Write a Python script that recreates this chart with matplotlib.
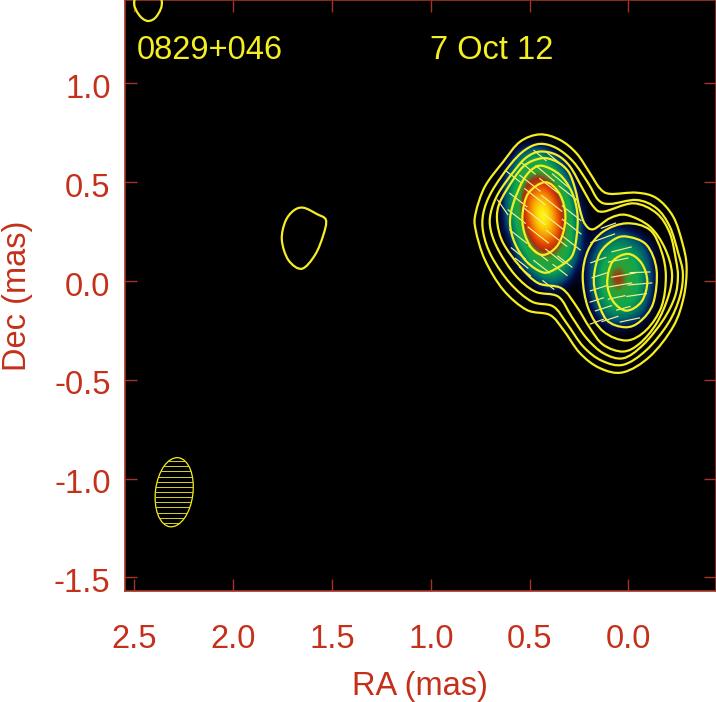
import numpy as np
import matplotlib
matplotlib.use('Agg')
import matplotlib.pyplot as plt
from matplotlib.colors import LinearSegmentedColormap
from matplotlib.patches import Ellipse, PathPatch
from matplotlib.path import Path
from matplotlib.transforms import ScaledTranslation

plt.rcParams['font.family'] = ['Liberation Sans', 'DejaVu Sans']

RED = '#c4301a'
AXIS_RED = '#a83224'
YELLOW = '#f4ee22'

source_name = '0829+046'
epoch = '7 Oct 12'
x_ticks = [2.5, 2.0, 1.5, 1.0, 0.5, 0.0]
y_ticks = [1.0, 0.5, 0.0, -0.5, -1.0, -1.5]

map_ra = [0.70, 0.65, 0.60, 0.55, 0.50, 0.45, 0.40, 0.35, 0.30, 0.25,
          0.20, 0.15, 0.10, 0.05, 0.00, -0.05, -0.10, -0.15, -0.20]
map_dec = [0.70, 0.65, 0.60, 0.55, 0.50, 0.45, 0.40, 0.35, 0.30, 0.25, 0.20,
           0.15, 0.10, 0.05, 0.00, -0.05, -0.10, -0.15, -0.20, -0.25, -0.30]
map_values = [
    [0, 0, 0, 0, 0, 0, 0, 0, 0, 0, 0, 0, 0, 0, 0, 0, 0, 0, 0],
    [0, 0, 0, 10, 22, 24, 12, 0, 0, 0, 0, 0, 0, 0, 0, 0, 0, 0, 0],
    [0, 0, 5, 27, 38, 39, 33, 15, 0, 0, 0, 0, 0, 0, 0, 0, 0, 0, 0],
    [0, 0, 13, 36, 45, 48, 43, 30, 5, 0, 0, 0, 0, 0, 0, 0, 0, 0, 0],
    [0, 0, 21, 42, 54, 60, 53, 41, 18, 0, 0, 0, 0, 0, 0, 0, 0, 0, 0],
    [0, 0, 25, 45, 64, 76, 67, 48, 29, 2, 0, 0, 0, 0, 0, 0, 0, 0, 0],
    [0, 0, 27, 47, 71, 89, 81, 55, 37, 5, 0, 0, 0, 0, 0, 0, 0, 0, 0],
    [0, 0, 25, 47, 73, 96, 90, 62, 41, 12, 0, 0, 0, 0, 0, 0, 0, 0, 0],
    [0, 0, 20, 44, 68, 94, 92, 65, 43, 15, 0, 0, 0, 0, 0, 0, 0, 0, 0],
    [0, 0, 13, 41, 60, 84, 86, 64, 43, 17, 0, 5, 12, 12, 8, 3, 0, 0, 0],
    [0, 0, 3, 35, 50, 68, 72, 57, 41, 15, 0, 12, 22, 25, 22, 14, 4, 0, 0],
    [0, 0, 0, 24, 42, 53, 57, 49, 37, 11, 3, 20, 30, 35, 32, 25, 10, 0, 0],
    [0, 0, 0, 9, 33, 43, 46, 42, 30, 5, 8, 27, 38, 44, 40, 31, 15, 0, 0],
    [0, 0, 0, 0, 18, 33, 38, 34, 19, 0, 10, 30, 46, 56, 44, 35, 18, 1, 0],
    [0, 0, 0, 0, 0, 15, 23, 19, 6, 0, 10, 30, 47, 62, 44, 36, 18, 1, 0],
    [0, 0, 0, 0, 0, 0, 6, 5, 0, 0, 8, 28, 42, 50, 43, 35, 17, 0, 0],
    [0, 0, 0, 0, 0, 0, 0, 0, 0, 0, 4, 24, 36, 40, 38, 30, 12, 0, 0],
    [0, 0, 0, 0, 0, 0, 0, 0, 0, 0, 1, 15, 28, 32, 30, 22, 7, 0, 0],
    [0, 0, 0, 0, 0, 0, 0, 0, 0, 0, 0, 6, 14, 17, 15, 9, 1, 0, 0],
    [0, 0, 0, 0, 0, 0, 0, 0, 0, 0, 0, 0, 2, 3, 2, 0, 0, 0, 0],
    [0, 0, 0, 0, 0, 0, 0, 0, 0, 0, 0, 0, 0, 0, 0, 0, 0, 0, 0],
]

c1_ra = [.447, .346, .262, .194, .144, .093, -.042, -.143, -.227, -.274, -.295, -.281, -.227, -.109,
         .026, .144, .245, .329, .397, .515, .633, .726, .773, .773, .726, .633, .548]
c1_dec = [.742, .714, .646, .545, .469, .441, .447, .419, .326, .191, .073, -.079, -.231, -.382,
          -.462, -.441, -.365, -.247, -.172, -.146, -.045, .107, .259, .343, .478, .604, .705]
c2_ra = [.447, .363, .279, .203, .152, .093, -.042, -.143, -.210, -.253, -.276, -.261, -.202, -.092,
         .026, .135, .228, .312, .380, .489, .599, .692, .734, .734, .692, .599, .523]
c2_dec = [.694, .672, .604, .495, .410, .390, .410, .368, .275, .140, .039, -.079, -.214, -.349,
          -.424, -.403, -.332, -.214, -.129, -.104, -.011, .124, .242, .343, .452, .587, .663]
c3_ra = [.447, .363, .295, .228, .177, .127, -.025, -.143, -.210, -.241, -.251, -.236, -.177, -.075,
         .026, .127, .211, .287, .355, .473, .574, .658, .697, .697, .658, .574, .515]
c3_dec = [.655, .638, .579, .461, .377, .351, .393, .343, .242, .107, .022, -.079, -.197, -.323,
          -.391, -.365, -.290, -.180, -.079, -.053, .031, .157, .259, .343, .444, .562, .626]
c4_ra = [.439, .363, .304, .270, .245, .220, .177, .093, .009, -.109, -.185, -.221, -.202, -.143,
         -.059, .026, .127, .194, .262, .338, .456, .548, .633, .663, .658, .616, .532]
c4_dec = [.621, .604, .554, .469, .360, .289, .262, .318, .334, .275, .166, .039, -.079, -.214,
          -.315, -.357, -.323, -.239, -.129, -.037, -.011, .073, .191, .292, .377, .461, .579]
left2_ra = [.430, .346, .287, .258, .262, .287, .363, .430, .515, .574, .599, .582, .532, .481]
left2_dec = [.582, .537, .452, .343, .225, .124, .065, .043, .098, .191, .292, .393, .511, .570]
left1_ra = [.422, .355, .321, .326, .363, .430, .489, .528, .535, .506]
left1_dec = [.500, .452, .360, .259, .174, .132, .166, .250, .343, .444]
right3_ra = [.009, -.109, -.168, -.190, -.168, -.092, .009, .127, .203, .231, .203, .127]
right3_dec = [.292, .259, .149, .022, -.129, -.247, -.301, -.255, -.138, .022, .157, .250]
right2_ra = [.009, -.092, -.143, -.126, -.059, .017, .110, .161, .174, .144, .076]
right2_dec = [.225, .183, .056, -.112, -.205, -.234, -.197, -.079, .022, .140, .208]
right1_ra = [.000, -.067, -.096, -.067, .009, .076, .107, .080]
right1_dec = [.137, .090, -.003, -.104, -.150, -.104, -.011, .098]
blob_ra = [1.645, 1.577, 1.531, 1.544, 1.586, 1.653, 1.721, 1.754, 1.737, 1.695]
blob_dec = [.371, .339, .309, .233, .132, .062, .106, .207, .300, .356]
corner_ra = [2.500, 2.480, 2.434, 2.387, 2.363, 2.434]
corner_dec = [1.422, 1.351, 1.316, 1.341, 1.422, 1.550]

# polarisation sticks: centre, length (mas), position angle (deg)
stick_ra = [.447, .368, .506, .422, .338, .582, .498, .397, .304, .636, .557, .473, .388, .287, .565, .473,
            .380, .287, .557, .456, .363, .287, .557, .456, .371, .321, .540, .439, .346, .523, .405,
            .101, .130, .034, .152, .051, -.059, .025, .143, -.059, .042, .152, -.042, .059, .160,
            .025, .126, -.008, .093, .160]
stick_dec = [.635, .613, .570, .545, .503, .528, .495, .478, .444, .373, .410, .427, .393, .343, .326, .326,
             .301, .275, .225, .233, .216, .191, .140, .140, .124, .098, .090, .073, .056, .048, -.020,
             .280, .216, .160, .106, .106, .044, .030, .030, -.015, -.020, -.037, -.071, -.083, -.096,
             -.138, -.138, -.197, -.192, -.206]
stick_len = [.08, .12, .09, .12, .12, .09, .13, .13, .12, .09, .11, .13, .13, .12, .11, .13,
             .13, .12, .11, .13, .13, .11, .09, .12, .12, .09, .08, .10, .09, .07, .07,
             .076, .127, .10, .08, .10, .10, .12, .085, .12, .12, .085, .10, .085, .07,
             .07, .085, .10, .085, .07]
stick_pa = [50, 50, 50, 50, 50, 52, 52, 52, 52, 35, 52, 52, 52, 52, 52, 52,
            52, 52, 52, 52, 52, 52, 52, 52, 52, 52, 52, 52, 52, 52, 52,
            -70, -70, -76, -70, -78, -88, -80, -72, -85, -80, -72, -82, -78, -72,
            -75, -72, -78, -72, -70]


def smooth_path(ra, dec):
    # closed spline through the read points
    pts = np.column_stack([ra, dec])
    verts = [pts[0]]
    codes = [Path.MOVETO]
    n = len(pts)
    for i in range(n):
        c1 = pts[i] + (pts[(i + 1) % n] - pts[i - 1]) / 6
        c2 = pts[(i + 1) % n] - (pts[(i + 2) % n] - pts[i]) / 6
        verts += [c1, c2, pts[(i + 1) % n]]
        codes += [Path.CURVE4] * 3
    return Path(verts, codes)


cmap = LinearSegmentedColormap.from_list('vlba', [
    (0.00, '#000000'), (0.07, '#001050'), (0.15, '#005070'), (0.25, '#008060'),
    (0.35, '#10a850'), (0.47, '#30a030'), (0.55, '#a83010'), (0.63, '#e04000'),
    (0.76, '#f59000'), (0.94, '#ffff10'), (1.00, '#ffff10')])

fig = plt.figure(figsize=(7.16, 7.02), dpi=100)
ax = fig.add_axes([124.5 / 716, 1 - 591 / 702, 591.5 / 716, 591 / 702])
ax.set_facecolor('black')

ax.imshow(map_values, cmap=cmap, vmin=0, vmax=100, aspect='auto', interpolation='bicubic',
          extent=(map_ra[0] + .025, map_ra[-1] - .025, map_dec[-1] - .025, map_dec[0] + .025), zorder=1)

for ra, dec, length, pa in zip(stick_ra, stick_dec, stick_len, stick_pa):
    dx = np.sin(np.radians(pa)) * length / 2
    dy = np.cos(np.radians(pa)) * length / 2
    ax.plot([ra - dx, ra + dx], [dec - dy, dec + dy], color='#f6ee90', lw=0.85, zorder=2)

contours = [(c1_ra, c1_dec), (c2_ra, c2_dec), (c3_ra, c3_dec), (c4_ra, c4_dec),
            (left2_ra, left2_dec), (left1_ra, left1_dec),
            (right3_ra, right3_dec), (right2_ra, right2_dec), (right1_ra, right1_dec),
            (blob_ra, blob_dec), (corner_ra, corner_dec)]
for ra, dec in contours:
    ax.add_patch(PathPatch(smooth_path(ra, dec), fill=False, edgecolor=YELLOW, lw=1.6, zorder=3))

# restoring beam
beam = Ellipse((2.299, -1.069), 0.190, 0.352, angle=7, fill=False, edgecolor=YELLOW, lw=0.9, zorder=3)
ax.add_patch(beam)
hatch = ax.hlines(np.arange(-1.25, -0.89, 0.026), 2.1, 2.5, color='#d8d420', lw=0.7, zorder=3)
hatch.set_clip_path(beam)

ax.set_xlim(2.5 + 10 / 197.6, -(716 - 628.3) / 197.6)
ax.set_ylim(-310 / 197.6, 281 / 197.6)

ax.set_xticks(x_ticks)
ax.set_yticks(y_ticks)
ax.set_xticklabels([f'{t:.1f}' for t in x_ticks])
ax.set_yticklabels([f'{t:.1f}' for t in y_ticks])
ax.tick_params(axis='both', direction='in', length=8.6, width=1, color=AXIS_RED, labelcolor=RED,
               labelsize=23.5, top=True, right=True)
ax.tick_params(axis='x', pad=24)
ax.tick_params(axis='y', pad=10)
shift_down = ScaledTranslation(0, -2.5 / 100, fig.dpi_scale_trans)
for label in ax.get_yticklabels():
    label.set_transform(label.get_transform() + shift_down)
for spine in ax.spines.values():
    spine.set_color(AXIS_RED)
    spine.set_linewidth(1.2)

ax.set_xlabel('RA (mas)', color=RED, fontsize=23.5, labelpad=11.5)
ax.set_ylabel('Dec (mas)', color=RED, fontsize=23.5, labelpad=15)

ax.text(2.49, 1.165, source_name, color=YELLOW, fontsize=23.5, va='center', ha='left')
ax.text(1.005, 1.165, epoch, color=YELLOW, fontsize=23.5, va='center', ha='left')

fig.savefig('out.png', dpi=100)
